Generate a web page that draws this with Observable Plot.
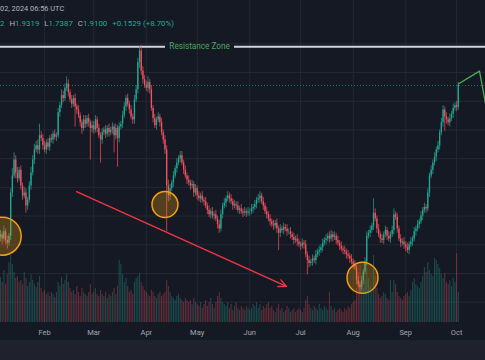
<!DOCTYPE html>
<html><head><meta charset="utf-8">
<script src="https://cdn.jsdelivr.net/npm/d3@7"></script>
<script src="https://cdn.jsdelivr.net/npm/@observablehq/plot@0.6"></script>
<style>
body{margin:0;background:#151924;}
#wrap{position:relative;width:485px;height:360px;background:#151924;overflow:hidden;font-family:Roboto,sans-serif;}
.layer{position:absolute;left:0;top:0;}
.hdr{position:absolute;white-space:nowrap;line-height:8px;color:#b2b5be;}
.g{color:#22ab94}
.sp{margin-left:5px}
#band{position:absolute;left:0;top:340px;width:485px;height:20px;background:#1f222c}
</style></head><body>
<div id="wrap">
  <div id="main" class="layer"></div>
  <div id="vol" class="layer"></div>
  <div class="hdr" style="left:0px;top:5px;font-size:7.4px">02, 2024 06:56 UTC</div>
  <div class="hdr" style="left:0px;top:20px;font-size:7.9px"><span class="g">2</span><span class="sp">H</span><span class="g">1.9319</span><span class="sp">L</span><span class="g">1.7387</span><span class="sp">C</span><span class="g">1.9100</span><span class="g sp">+0.1529 (+8.70%)</span></div>
  <div id="band"></div>
</div>
<script>
// ---- data (daily candles, first day 2024-01-06) ----
const firstDay = "2024-01-06";
const firstOpen = 0.85;
const closes = [
  // Jan
  0.87,0.84,0.89,0.83,0.81,0.86,1.16,1.28,1.39,1.30,1.26,1.32,1.21,1.14,1.16,1.07,1.11,1.21,1.30,1.39,1.46,1.49,1.46,1.56,1.54,1.49,
  // Feb
  1.46,1.51,1.48,1.54,1.53,1.57,1.55,1.56,1.72,1.77,1.84,1.82,1.89,1.92,1.86,1.81,1.78,1.82,1.76,1.74,1.70,1.65,1.61,1.67,1.64,1.68,1.65,1.61,1.63,
  // Mar
  1.60,1.67,1.61,1.56,1.53,1.58,1.60,1.57,1.61,1.58,1.60,1.62,1.56,1.61,1.54,1.62,1.64,1.70,1.76,1.82,1.78,1.74,1.69,1.67,1.81,1.88,2.07,2.15,2.01,1.95,1.91,
  // Apr
  1.89,1.93,1.88,1.75,1.68,1.63,1.67,1.69,1.65,1.58,1.53,1.46,1.21,1.14,1.19,1.23,1.28,1.33,1.37,1.40,1.42,1.37,1.32,1.28,1.25,1.23,1.21,1.22,1.16,1.19,
  // May
  1.14,1.12,1.14,1.11,1.10,1.07,1.04,1.01,1.03,1.00,1.01,0.98,0.94,0.91,1.01,1.07,1.09,1.12,1.14,1.12,1.10,1.07,1.08,1.07,1.04,1.05,1.03,1.02,1.03,1.02,1.03,
  // Jun
  1.03,1.05,1.06,1.08,1.11,1.12,1.14,1.10,1.07,1.03,1.01,0.98,0.96,0.94,0.93,0.95,0.91,0.88,0.91,0.90,0.92,0.91,0.89,0.89,0.87,0.85,0.83,0.84,0.82,0.80,
  // Jul
  0.79,0.81,0.80,0.73,0.69,0.67,0.68,0.70,0.69,0.73,0.75,0.76,0.78,0.81,0.83,0.84,0.86,0.84,0.87,0.85,0.86,0.83,0.81,0.79,0.77,0.76,0.75,0.73,0.72,0.70,0.68,
  // Aug
  0.66,0.64,0.55,0.52,0.50,0.55,0.61,0.68,0.86,0.88,0.90,0.93,1.02,0.98,0.91,0.87,0.84,0.83,0.87,0.90,0.86,0.84,0.87,0.90,1.01,0.99,0.91,0.84,0.81,0.82,0.80,
  // Sep
  0.78,0.76,0.80,0.82,0.84,0.89,0.91,0.94,0.96,1.00,1.04,1.06,1.05,1.16,1.28,1.32,1.37,1.41,1.46,1.49,1.58,1.65,1.74,1.69,1.67,1.65,1.68,1.71,1.75,1.77,
  // Oct
  1.7571,1.9100
];
// wick lengths beyond the body, in hundredths of a unit
const wickUp = [
  3,2,4,2,3,2,3,5,5,3,4,2,3,2,4,3,2,3,4,3,4,3,4,8,3,3,
  3,2,3,2,3,2,3,2,3,2,4,3,3,5,3,2,3,2,3,2,3,2,2,3,3,2,3,2,3,
  3,3,2,3,2,3,2,3,2,3,2,3,2,3,2,3,2,3,3,2,3,2,3,2,3,3,3,3,4,3,3,
  3,4,2,3,2,3,2,3,2,3,2,3,3,4,3,2,3,2,3,2,3,3,2,3,2,3,2,3,2,3,
  2,3,2,3,2,3,2,3,2,3,2,3,2,3,3,2,3,2,3,2,3,2,3,2,3,2,3,2,3,2,3,
  2,3,2,3,2,3,3,2,3,2,3,2,3,2,3,2,3,2,3,2,3,2,3,2,3,2,3,2,3,2,
  2,3,2,3,2,3,2,3,2,3,2,3,2,3,2,3,2,3,3,2,3,2,3,2,3,2,3,2,3,2,3,
  2,3,2,3,2,3,2,3,3,2,3,2,10,3,2,3,2,3,2,3,2,3,2,3,4,2,3,2,3,2,3,
  2,3,2,3,2,3,2,3,2,3,2,3,2,3,2,3,2,3,2,3,2,3,3,2,3,2,3,2,3,2,
  3,2
];
const wickDn = [
  3,4,2,3,4,2,3,3,2,4,3,2,3,3,2,5,3,2,3,2,3,2,3,3,2,3,
  2,3,2,3,2,3,2,3,2,3,2,3,2,2,3,2,3,2,14,3,2,3,4,2,3,2,3,22,3,
  3,2,3,2,16,3,2,3,2,3,2,3,12,3,20,3,2,3,2,3,2,3,2,3,3,2,3,4,3,3,2,
  2,3,3,2,3,2,3,2,3,2,3,3,32,4,3,2,3,2,3,2,3,2,3,2,3,2,3,2,3,2,
  3,2,3,2,3,2,3,2,3,2,3,2,3,3,2,3,2,3,2,3,2,3,2,3,2,3,2,3,2,3,2,
  3,2,3,2,3,2,3,2,3,2,3,2,3,2,3,2,3,12,3,2,3,2,3,2,3,2,3,2,3,2,
  3,2,3,2,10,3,2,3,2,3,2,3,2,3,2,3,2,3,2,3,2,3,2,3,2,3,2,3,2,3,2,
  3,2,3,2,3,2,3,2,3,2,3,2,3,2,3,2,3,2,3,2,3,2,3,2,3,2,3,2,3,2,3,
  3,2,3,2,3,2,3,2,3,2,3,2,3,2,3,2,3,2,3,2,3,2,3,10,3,2,3,2,3,2,
  3,2
];
const volumes = [
  45,40,52,38,48,60,70,58,50,44,46,40,42,38,50,44,36,40,48,42,38,35,40,46,34,30,
  32,28,30,26,30,28,25,30,40,36,45,38,42,48,40,34,30,32,28,36,30,26,34,30,28,26,30,38,28,
  30,34,28,26,32,28,26,30,24,28,26,30,34,28,36,62,58,48,40,44,36,30,32,28,40,44,46,49,40,36,32,
  30,28,26,32,30,26,24,28,30,26,28,30,42,36,30,26,24,22,26,28,24,22,20,24,22,20,22,18,24,20,
  18,16,20,14,18,22,16,20,24,18,14,20,26,30,24,20,18,16,20,14,18,12,16,20,14,12,16,14,12,16,14,
  12,14,18,16,20,14,18,12,16,14,18,20,14,16,12,10,14,18,12,14,10,12,16,14,10,12,14,10,12,14,
  12,10,14,22,26,18,14,12,16,14,12,18,14,12,16,14,12,30,16,12,14,10,12,14,12,10,14,12,16,14,18,
  20,22,34,50,57,40,34,42,55,44,36,32,67,46,34,28,24,26,30,28,24,22,42,30,42,38,30,26,24,22,26,
  28,30,26,32,40,44,38,36,34,40,46,55,50,60,52,48,46,64,62,58,54,48,44,49,40,38,42,36,44,40,
  69,30
];
const monthLabelStart = "2024-02-01";
const priceTicks = [0.4,0.6,0.8,1.0,1.2,1.4,1.6,1.8,2.0,2.2];
const resistance = 2.18;
const lastPrice = 1.91;
const resistanceSegments = [
  {from:"2024-01-01", to:"2024-04-12T08:00Z"},
  {from:"2024-05-23", to:"2024-10-25"}
];
const resistanceLabel = {date:"2024-05-02T10:00Z", text:"Resistance Zone"};
const zones = [
  {date:"2024-01-07", price:0.86},
  {date:"2024-04-12", price:1.08},
  {date:"2024-08-06T12:00Z", price:0.57}
];
const trend = {from:"2024-02-19T20:00Z", fromPrice:1.17, to:"2024-06-22T16:00Z", toPrice:0.51};
const projDates = ["2024-10-02","2024-10-14T12:00Z","2024-10-20"];
const projPrices = [1.92, 2.01, 1.66];

// ---- build ----
const TEAL = "#22ab94", RED = "#f7525f";
const start = new Date(firstDay);
const candles = closes.map((c, i) => {
  const o = i === 0 ? firstOpen : closes[i - 1];
  const up = (wickUp[i] ?? 0) / 100, dn = (wickDn[i] ?? 0) / 100;
  return {date: d3.utcDay.offset(start, i), open: o, close: c,
    high: Math.max(o, c) + up, low: Math.min(o, c) - dn,
    vol: volumes[i] ?? 0, rise: c >= o};
});
const monthTicks = d3.utcMonths(new Date("2024-01-01"), new Date("2024-11-01"));
const labelTicks = d3.utcMonths(new Date(monthLabelStart), new Date("2024-11-01"));
const xDomain = [new Date("2024-01-06"), new Date("2024-10-18T01:00:00Z")];
const proj = projDates.map((d, i) => ({date: new Date(d), price: projPrices[i]}));
const col = d => d.rise ? TEAL : RED;

const common = {width: 485, height: 340, marginTop: 0, marginRight: 0, marginBottom: 18, marginLeft: 0,
  style: {background: "transparent", color: "#a3a6af", fontFamily: "Roboto", fontSize: "7.5px"}};

const main = Plot.plot({
  ...common,
  x: {type: "utc", domain: xDomain},
  y: {domain: [0.2583, 2.5023], axis: null},
  marks: [
    Plot.gridX(monthTicks, {stroke: "#242833", strokeOpacity: 1}),
    Plot.gridY(priceTicks, {stroke: "#242833", strokeOpacity: 1}),
    Plot.axisX(labelTicks, {tickFormat: d3.utcFormat("%b"), tickSize: 0, tickPadding: 7, fontSize: 7.5}),
    Plot.ruleY([lastPrice], {stroke: TEAL, strokeOpacity: 0.6, strokeDasharray: "1,2"}),
    Plot.ruleY(resistanceSegments, {y: () => resistance, x1: d => new Date(d.from), x2: d => new Date(d.to), stroke: "#d1d4dc", strokeWidth: 2, clip: true}),
    Plot.text([resistanceLabel], {x: d => new Date(d.date), y: () => resistance, text: "text", fill: "#4fa35c", fontSize: 8.2}),
    Plot.ruleX(candles, {x: "date", y1: "low", y2: "high", stroke: col, strokeWidth: 0.7}),
    Plot.ruleX(candles, {x: "date", y1: "open", y2: "close", stroke: col, strokeWidth: 1.3}),
    Plot.dot([zones[0]], {x: d => new Date(d.date), y: "price", r: 19, fill: "#f59e0b", fillOpacity: 0.28, stroke: "#f5a00f", strokeWidth: 1.5}),
    Plot.dot([zones[1]], {x: d => new Date(d.date), y: "price", r: 13, fill: "#f59e0b", fillOpacity: 0.28, stroke: "#f5a00f", strokeWidth: 1.5}),
    Plot.dot([zones[2]], {x: d => new Date(d.date), y: "price", r: 15.5, fill: "#f59e0b", fillOpacity: 0.28, stroke: "#f5a00f", strokeWidth: 1.5}),
    Plot.arrow([trend], {x1: d => new Date(d.from), y1: "fromPrice", x2: d => new Date(d.to), y2: "toPrice", stroke: "#f23645", strokeWidth: 1.3, headLength: 10, headAngle: 50}),
    Plot.line(proj, {x: "date", y: "price", stroke: "#4caf50", strokeWidth: 1.3, clip: true})
  ]
});
document.getElementById("main").append(main);

const vol = Plot.plot({
  ...common,
  x: {type: "utc", domain: xDomain, axis: null},
  y: {domain: [0, 322], axis: null},
  marks: [
    Plot.ruleX(candles, {x: "date", y1: 0, y2: "vol", stroke: col, strokeOpacity: 0.34, strokeWidth: 1.1})
  ]
});
document.getElementById("vol").append(vol);
</script>
</body></html>
